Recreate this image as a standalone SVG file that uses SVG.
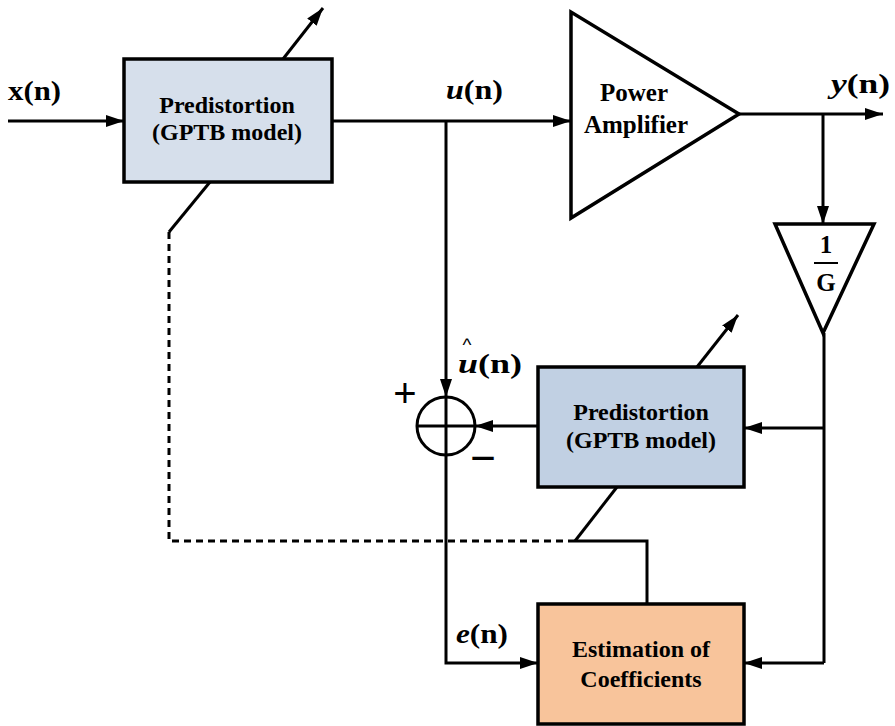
<svg xmlns="http://www.w3.org/2000/svg" width="895" height="726" viewBox="0 0 895 726">
  <defs>
    <marker id="arrow" markerUnits="userSpaceOnUse" markerWidth="18" markerHeight="12" refX="18" refY="6" orient="auto">
      <path d="M0,0 L18,6 L0,12 z" fill="#000"/>
    </marker>
    <style>
      .ln { fill: none; stroke: #000; stroke-width: 3; }
      .arr { marker-end: url(#arrow); }
      .dash { fill: none; stroke: #000; stroke-width: 3; stroke-dasharray: 7 5; }
      .box { stroke: #000; stroke-width: 3.5; }
      .blk { font-family: "Liberation Serif", "Times New Roman", serif; font-weight: bold; fill: #000; }
      .bt { font-size: 24px; text-anchor: middle; }
      .lbl { font-size: 28px; }
      .it { font-style: italic; }
      .sym { font-family: "Liberation Sans", Arial, sans-serif; font-weight: normal; fill: #000; }
    </style>
  </defs>

  <rect width="895" height="726" fill="#fff"/>

  <!-- connectors -->
  <g id="connectors">
    <!-- input x(n) -->
    <line class="ln arr" x1="8" y1="121" x2="124" y2="121"/>
    <!-- u(n) to amplifier -->
    <line class="ln arr" x1="332" y1="121" x2="571" y2="121"/>
    <!-- u(n) tap down to summing junction -->
    <line class="ln arr" x1="446" y1="121" x2="446" y2="397"/>
    <!-- error path to estimator -->
    <polyline class="ln arr" points="446,455 446,663 538,663"/>
    <!-- amplifier output y(n) -->
    <line class="ln arr" x1="739" y1="114" x2="883" y2="114"/>
    <!-- feedback tap to 1/G -->
    <line class="ln arr" x1="823" y1="114" x2="823" y2="224"/>
    <!-- 1/G output bus -->
    <line class="ln" x1="824" y1="333" x2="824" y2="663"/>
    <line class="ln arr" x1="824" y1="428" x2="744" y2="428"/>
    <line class="ln arr" x1="824" y1="663" x2="744" y2="663"/>
    <!-- post-inverse output to summing junction -->
    <line class="ln arr" x1="538" y1="426" x2="475" y2="426"/>
    <!-- adjustable-parameter arrows -->
    <line class="ln arr" x1="283" y1="59" x2="323" y2="8"/>
    <line class="ln arr" x1="697" y1="367" x2="738" y2="315"/>
    <!-- coefficient copy path -->
    <line class="ln" x1="210" y1="182" x2="169" y2="232"/>
    <polyline class="dash" points="169,232 169,541 575,541"/>
    <line class="ln" x1="617" y1="487" x2="575" y2="541"/>
    <polyline class="ln" points="575,541 647,541 647,604"/>
  </g>

  <!-- signal labels -->
  <g id="labels" class="blk lbl">
    <text x="8" y="100" textLength="53" lengthAdjust="spacingAndGlyphs">x(n)</text>
    <text x="446" y="99" textLength="57" lengthAdjust="spacingAndGlyphs"><tspan class="it">u</tspan>(n)</text>
    <text x="831" y="93" textLength="59" lengthAdjust="spacingAndGlyphs"><tspan class="it">y</tspan>(n)</text>
    <text><tspan class="sym" x="467" y="351" font-size="19" text-anchor="middle">^</tspan><tspan x="458" y="373" textLength="64" lengthAdjust="spacingAndGlyphs"><tspan class="it">u</tspan>(n)</tspan></text>
    <text x="456" y="643" textLength="52" lengthAdjust="spacingAndGlyphs"><tspan class="it">e</tspan>(n)</text>
  </g>

  <!-- predistorter (forward path) -->
  <g id="predistorter">
    <rect class="box" x="124" y="59" width="208" height="123" fill="#d6dfeb"/>
    <text class="blk bt" x="227" y="113">Predistortion</text>
    <text class="blk bt" x="227" y="140">(GPTB model)</text>
  </g>

  <!-- power amplifier -->
  <g id="power-amplifier">
    <polygon class="box" points="571,12 571,218 739,114" fill="#fff"/>
    <text class="blk" x="634" y="101" font-size="25" text-anchor="middle">Power</text>
    <text class="blk" x="636" y="133" font-size="25" text-anchor="middle">Amplifier</text>
  </g>

  <!-- inverse gain 1/G -->
  <g id="inverse-gain">
    <polygon class="box" points="775,224 874,224 823,333" fill="#fff"/>
    <text class="blk" x="826" y="253" font-size="25" text-anchor="middle">1</text>
    <line x1="814" y1="263" x2="838" y2="263" stroke="#000" stroke-width="2"/>
    <text class="blk" x="826" y="291" font-size="25" text-anchor="middle">G</text>
  </g>

  <!-- summing junction -->
  <g id="summing-junction">
    <circle class="ln" cx="446" cy="426" r="29"/>
    <line class="ln" x1="417" y1="426" x2="475" y2="426"/>
    <line class="ln" x1="446" y1="397" x2="446" y2="455"/>
    <text class="sym" x="405" y="407" font-size="40" text-anchor="middle">+</text>
    <text class="sym" x="483" y="473" font-size="44" text-anchor="middle">−</text>
  </g>

  <!-- postdistorter (feedback copy) -->
  <g id="postdistorter">
    <rect class="box" x="538" y="367" width="206" height="120" fill="#c1d0e3"/>
    <text class="blk bt" x="641" y="420">Predistortion</text>
    <text class="blk bt" x="641" y="448">(GPTB model)</text>
  </g>

  <!-- coefficient estimator -->
  <g id="estimator">
    <rect class="box" x="538" y="604" width="206" height="120" fill="#f8c49b"/>
    <text class="blk bt" x="641" y="657">Estimation of</text>
    <text class="blk bt" x="641" y="687">Coefficients</text>
  </g>
</svg>
